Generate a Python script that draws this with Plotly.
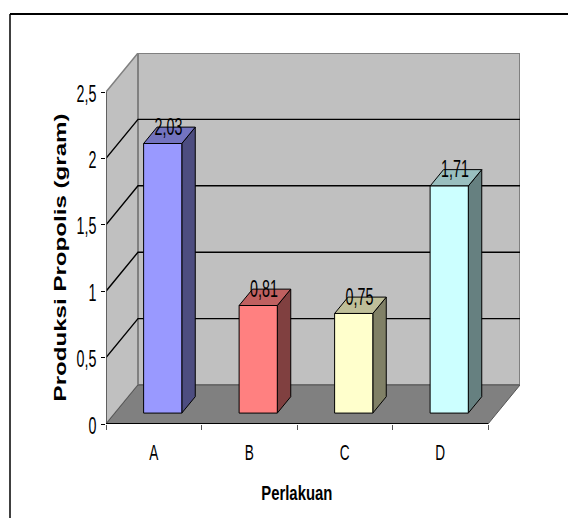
import plotly.graph_objects as go

categories = ["A", "B", "C", "D"]
values = [2.03, 0.81, 0.75, 1.71]
value_labels = ["2,03", "0,81", "0,75", "1,71"]
y_ticks = [0, 0.5, 1, 1.5, 2, 2.5]
y_tick_labels = ["0", "0,5", "1", "1,5", "2", "2,5"]
front_colors = ["#9999FF", "#FF8080", "#FFFFCC", "#CCFFFF"]
top_colors = ["#7373BF", "#BF6060", "#BFBF99", "#99BFBF"]
side_colors = ["#4D4D80", "#804040", "#808066", "#668080"]

W, H = 568, 518
PX_CAT, PX_UNIT = 95.5, 132.8
DX, DY = 32 / PX_CAT, 39 / PX_UNIT
Y_MAX = 2.5
N = len(categories)
BAR_W, D0, D1 = 0.4, 0.28, 0.70
X_LEFT, Y_BOTTOM = 106, 424
FONT = "Liberation Sans"


def proj(c, v, d=0.0):
    return c + d * DX, v + d * DY


fig = go.Figure()


def poly(points, fill=None, line="black", width=1.0):
    xs = [p[0] for p in points]
    ys = [p[1] for p in points]
    closed = fill is not None
    if closed:
        xs.append(xs[0])
        ys.append(ys[0])
    fig.add_trace(go.Scatter(
        x=xs, y=ys, mode="lines",
        fill="toself" if closed else None,
        fillcolor=fill,
        line=dict(color=line, width=width),
        hoverinfo="skip", showlegend=False, cliponaxis=False,
    ))


# walls and floor
poly([proj(0, 0), proj(0, Y_MAX), proj(0, Y_MAX, 1), proj(0, 0, 1)], "#C0C0C0", "#808080", 1.5)
poly([proj(0, 0, 1), proj(0, Y_MAX, 1), proj(N, Y_MAX, 1), proj(N, 0, 1)], "#C0C0C0", "#808080", 2)
poly([proj(0, 0), proj(N, 0), proj(N, 0, 1), proj(0, 0, 1)], "#808080", "#555555", 1)

# gridlines
for t in y_ticks[1:-1]:
    poly([proj(0, t), proj(0, t, 1), proj(N, t, 1)], None, "black", 1.4)

# bars
for i, v in enumerate(values):
    l, r = i + 0.5 - BAR_W / 2, i + 0.5 + BAR_W / 2
    poly([proj(r, 0, D0), proj(r, v, D0), proj(r, v, D1), proj(r, 0, D1)], side_colors[i])
    poly([proj(l, v, D0), proj(r, v, D0), proj(r, v, D1), proj(l, v, D1)], top_colors[i])
    poly([proj(l, 0, D0), proj(r, 0, D0), proj(r, v, D0), proj(l, v, D0)], front_colors[i])

# axis lines
poly([proj(0, 0), proj(0, Y_MAX)], None, "#555555", 1.6)
poly([proj(0, 0), proj(N, 0)], None, "black", 2)

# data labels
lx = [proj(i + 0.5, v, 0.46)[0] for i, v in enumerate(values)]
ly = [v + D1 * DY - 2 / PX_UNIT for v in values]
fig.add_trace(go.Scatter(
    x=lx, y=ly, mode="text", text=value_labels,
    textposition="middle center",
    textfont=dict(family=FONT, size=23, color="black"),
    hoverinfo="skip", showlegend=False, cliponaxis=False,
))

fig.update_layout(
    width=W, height=H, autosize=False,
    margin=dict(l=0, r=0, t=0, b=0),
    paper_bgcolor="white", plot_bgcolor="white",
    xaxis=dict(
        automargin=False,
        domain=[X_LEFT / W, (X_LEFT + N * PX_CAT + 32) / W],
        range=[0, N + DX], showgrid=False, zeroline=False, showline=False,
        tickmode="array", tickvals=[i + 0.5 for i in range(N)], ticktext=categories,
        ticks="", ticklabelstandoff=13,
        tickfont=dict(family=FONT, size=22, color="black"),
        minor=dict(tickmode="array", tickvals=list(range(N + 1)), ticks="outside",
                   ticklen=5, tickcolor="#555555", tickwidth=1, showgrid=False),
    ),
    yaxis=dict(
        automargin=False,
        domain=[(H - Y_BOTTOM) / H, (H - Y_BOTTOM + (Y_MAX + DY) * PX_UNIT) / H],
        range=[0, Y_MAX + DY], showgrid=False, zeroline=False, showline=False,
        tickmode="array", tickvals=y_ticks, ticktext=y_tick_labels,
        ticks="outside", ticklen=4, tickcolor="black", tickwidth=1,
        tickfont=dict(family=FONT, size=23, color="black"),
    ),
    annotations=[
        dict(text="<b>Produksi Propolis (gram)</b>", xref="paper", yref="paper",
             x=60 / W, y=1 - 258 / H, textangle=-90, showarrow=False,
             xanchor="center", yanchor="middle",
             font=dict(family=FONT, size=17, color="black")),
        dict(text="<b>Perlakuan</b>", xref="paper", yref="paper",
             x=297 / W, y=1 - 493 / H, showarrow=False,
             xanchor="center", yanchor="middle",
             font=dict(family=FONT, size=20, color="black")),
    ],
    shapes=[
        dict(type="line", xref="paper", yref="paper", x0=10 / W, x1=1, y0=1 - 14 / H, y1=1 - 14 / H,
             line=dict(color="black", width=2)),
        dict(type="line", xref="paper", yref="paper", x0=10 / W, x1=10 / W, y0=0, y1=1 - 14 / H,
             line=dict(color="black", width=1.5)),
    ],
)

# The reference's lettering is horizontally condensed (and the y title stretched):
# fit the real text elements to those proportions after the plot has drawn.
POST = """
document.body.style.margin='0';document.body.style.overflow='hidden';
function fit(sel,f){document.querySelectorAll(sel).forEach(function(t){
  var n=t.getComputedTextLength();if(n>0){t.setAttribute('textLength',n*f);
  t.setAttribute('lengthAdjust','spacingAndGlyphs');}});}
fit('.xtick text',0.62);fit('.ytick text',0.62);fit('.textpoint text',0.62);
document.querySelectorAll('.ytick text').forEach(function(t){t.setAttribute('dy','1.5');});
var a=document.querySelectorAll('.annotation-text');
if(a.length>1){a[0].setAttribute('textLength',288);a[0].setAttribute('lengthAdjust','spacingAndGlyphs');
 a[1].setAttribute('textLength',71);a[1].setAttribute('lengthAdjust','spacingAndGlyphs');}
"""
fig.write_html("out.html", config={"displayModeBar": False}, post_script=POST)
